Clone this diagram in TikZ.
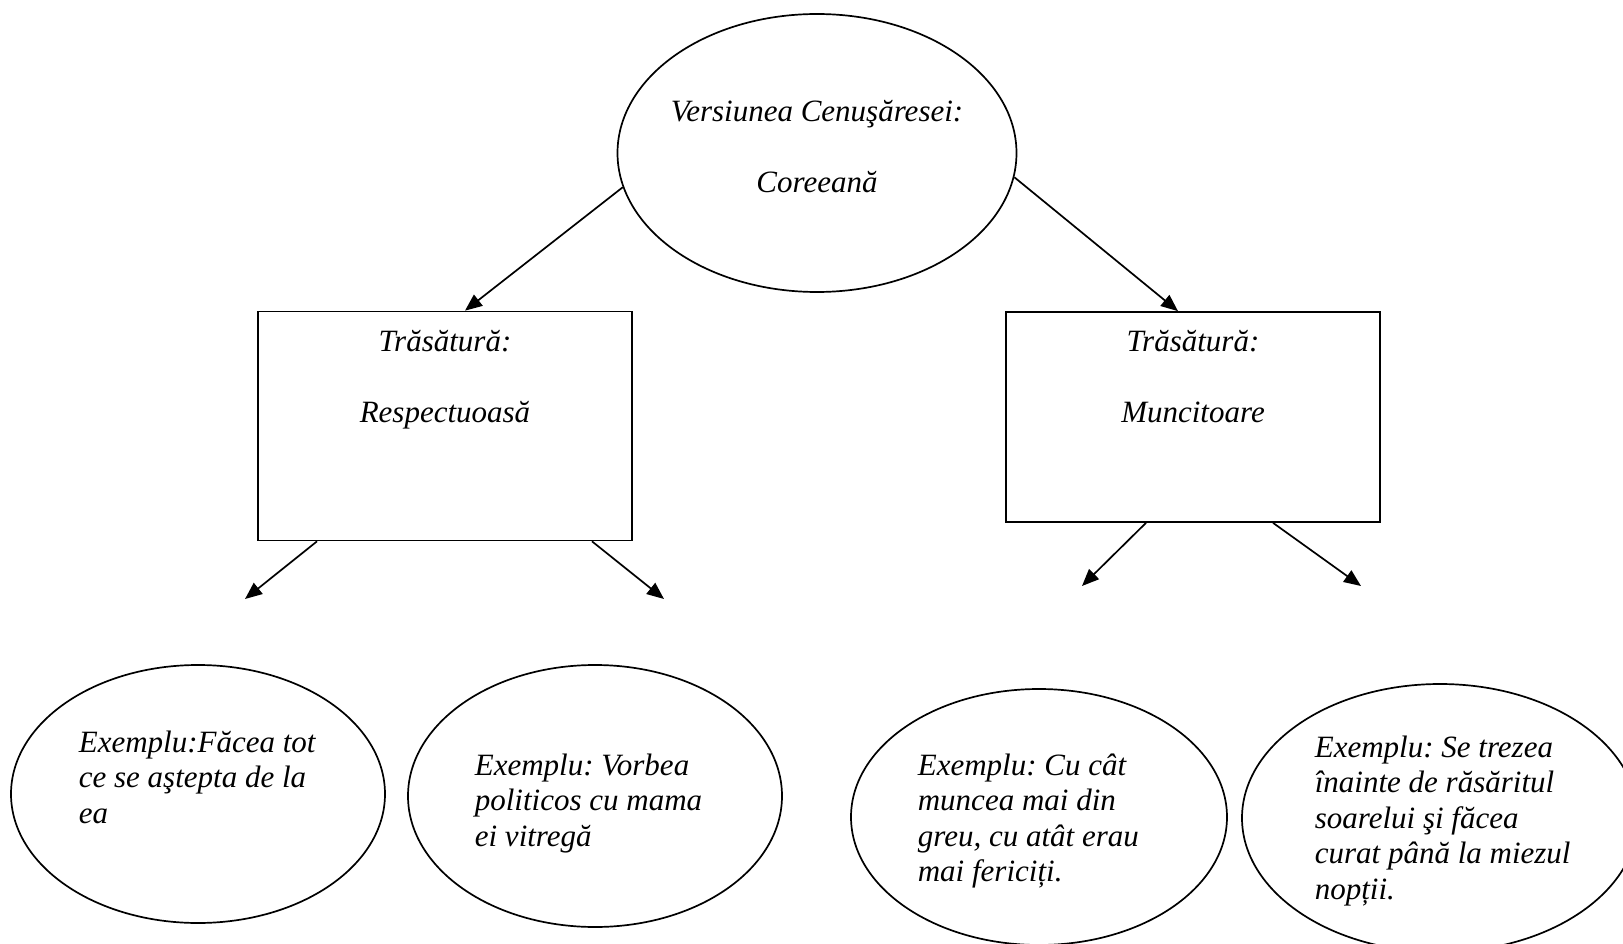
\documentclass[tikz,border=0pt]{standalone}
\usepackage{fontspec}
\setmainfont{Liberation Serif}
\usetikzlibrary{shapes.geometric,arrows.meta}
\frenchspacing
\begin{document}
\frenchspacing
\begin{tikzpicture}[x=1pt,y=-1pt,line width=1.7pt,
  oval/.style={draw,ellipse,inner sep=0pt},
  box/.style={draw,rectangle,inner sep=0pt},
  txt/.style={font=\fontsize{31}{35.5}\selectfont\itshape\frenchspacing,inner sep=0pt,align=left},
  arr/.style={-{Triangle[length=17pt,width=14pt]}}]
\useasboundingbox (0,0) rectangle (1623,944);
% top
\node[oval,minimum width=399pt,minimum height=278pt] (top) at (817,153) {};
\node[txt,anchor=base] (t1) at (817,122) {Versiunea Cenuşăresei:};
\node[txt,anchor=base] (t2) at (817,193) {Coreeană};
% boxes
\node[box,minimum width=374pt,minimum height=229pt] (lbox) at (445,426) {};
\node[box,minimum width=374pt,minimum height=210pt] (rbox) at (1193,417) {};
\node[txt,anchor=base] (l1) at (445,351) {Trăsătură:};
\node[txt,anchor=base] (l2) at (445,422) {Respectuoasă};
\node[txt,anchor=base] (r1) at (1193,351) {Trăsătură:};
\node[txt,anchor=base] (r2) at (1193,422) {Muncitoare};
% bottom ellipses
\node[oval,minimum width=374pt,minimum height=258pt] (e1) at (198,794) {};
\node[oval,minimum width=374pt,minimum height=262pt] (e2) at (595,796) {};
\node[oval,minimum width=376pt,minimum height=256pt] (e3) at (1039,817) {};
\node[oval,minimum width=396pt,minimum height=268pt] (e4) at (1440,818) {};
\node[txt,anchor=base west] (x1) at (78,823) {Exemplu:Făcea tot\\ce se aştepta de la\\ea};
\node[txt,anchor=base west] (x2) at (474,846) {Exemplu: Vorbea\\politicos cu mama\\ei vitregă};
\node[txt,anchor=base west] (x3) at (917,881.5) {Exemplu: Cu cât\\muncea mai din\\greu, cu atât erau\\mai fericiți.};
\node[txt,anchor=base west] (x4) at (1314,899) {Exemplu: Se trezea\\înainte de răsăritul\\soarelui şi făcea\\curat până la miezul\\nopții.};
% free arrow ends
\coordinate (a1) at (245,599);
\coordinate (a2) at (664,599);
\coordinate (a3) at (1082,586);
\coordinate (a4) at (1361,586);
% connectors
\draw[arr] (top.190) -- ([xshift=20pt]lbox.north);
\draw[arr] (top.-7) -- ([xshift=-15pt]rbox.north);
\draw[arr] ([xshift=-128pt]lbox.south) -- (a1);
\draw[arr] ([xshift=147pt]lbox.south) -- (a2);
\draw[arr] ([xshift=-47pt]rbox.south) -- (a3);
\draw[arr] ([xshift=80pt]rbox.south) -- (a4);
\end{tikzpicture}
\end{document}
